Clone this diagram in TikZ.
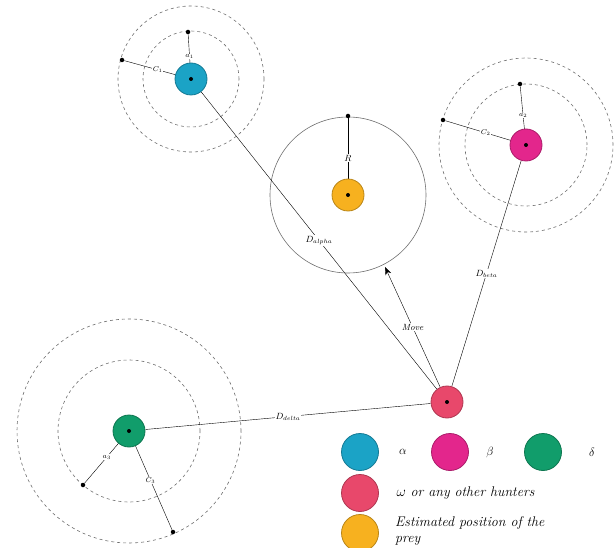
\documentclass[tikz,border=0pt]{standalone}
\usetikzlibrary{backgrounds,arrows.meta}
\definecolor{alphacol}{HTML}{1BA3C6}
\definecolor{betacol}{HTML}{E3268C}
\definecolor{deltacol}{HTML}{119D6B}
\definecolor{omegacol}{HTML}{E8486B}
\definecolor{preycol}{HTML}{F7B11F}
\definecolor{ringcol}{HTML}{6E6E6E}
\begin{document}
\begin{tikzpicture}[x=1pt,y=-1pt,
    wolf/.style={circle,minimum size=32pt,inner sep=0pt,line width=0.8pt,fill=#1,draw=#1!75!black},
    key/.style={circle,minimum size=37pt,inner sep=0pt,line width=0.8pt,fill=#1,draw=#1!75!black},
    ring/.style={dashed,draw=ringcol,line width=0.6pt},
    lbl/.style={fill=white,inner sep=1pt,font=\small},
    tiny/.style={fill=white,inner sep=0.6pt,font=\scriptsize},
    dot/.style={circle,fill=black,inner sep=0pt,minimum size=4.5pt},
    keytext/.style={anchor=west,font=\fontsize{14}{16}\selectfont\itshape,align=left}]
  \useasboundingbox (0,0) rectangle (616,548);
  \draw
    (191,79) node[wolf=alphacol] (alpha){}
    (526,145) node[wolf=betacol] (beta){}
    (129,431) node[wolf=deltacol] (delta){}
    (447,402) node[wolf=omegacol] (omega){}
    (348,195) node[wolf=preycol] (prey){};
  \foreach \n in {alpha,beta,delta,omega,prey}
    \fill (\n.center) circle (2pt);
  \node[dot] (a1) at (188,32) {};
  \node[dot] (c1) at (122,60) {};
  \node[dot] (a2) at (520,84) {};
  \node[dot] (c2) at (443,120) {};
  \node[dot] (a3) at (83,485) {};
  \node[dot] (c3) at (173,532) {};
  \node[dot] (r) at (348,116) {};
  \coordinate (target) at (385,267);
  \begin{scope}[on background layer]
    \draw[ring] (alpha.center) circle (48pt) circle (73pt);
    \draw[ring] (beta.center) circle (61pt) circle (87pt);
    \draw[ring] (delta.center) circle (71pt) circle (112pt);
    \draw[draw=ringcol,line width=0.6pt] (prey.center) circle (78pt);
    \draw (a1) -- node[tiny]{$a_1$} (alpha.center);
    \draw (c1) -- node[tiny]{$C_1$} (alpha.center);
    \draw (a2) -- node[tiny]{$a_2$} (beta.center);
    \draw (c2) -- node[tiny]{$C_2$} (beta.center);
    \draw (a3) -- node[tiny]{$a_3$} (delta.center);
    \draw (c3) -- node[tiny]{$C_3$} (delta.center);
    \draw (r) -- node[lbl,pos=0.52]{$R$} (prey.center);
    \draw (alpha) -- node[lbl]{$D_{alpha}$} (omega);
    \draw (beta) -- node[lbl]{$D_{beta}$} (omega);
    \draw (delta) -- node[lbl]{$D_{delta}$} (omega);
    \draw[-{Stealth[length=8pt,width=6pt]}] (omega) -- node[lbl]{\textit{Move}} (target);
  \end{scope}
  \node[key=alphacol] (kalpha) at (360,452) {};
  \node[key=betacol] (kbeta) at (450,452) {};
  \node[key=deltacol] (kdelta) at (543,452) {};
  \node[key=omegacol] (komega) at (360,493) {};
  \node[key=preycol] (kprey) at (360,533) {};
  \node[font=\fontsize{13}{16}\selectfont] (talpha) at (403,452) {$\alpha$};
  \node[font=\fontsize{13}{16}\selectfont] (tbeta) at (490,452) {$\beta$};
  \node[font=\fontsize{13}{16}\selectfont] (tdelta) at (592,452) {$\delta$};
  \node[keytext] (tomega) at (393,493) {$\omega$ or any other hunters};
  \node[keytext,anchor=north west,inner sep=2pt] (tprey) at (393,514) {Estimated position of the\\prey};
\end{tikzpicture}
\end{document}
